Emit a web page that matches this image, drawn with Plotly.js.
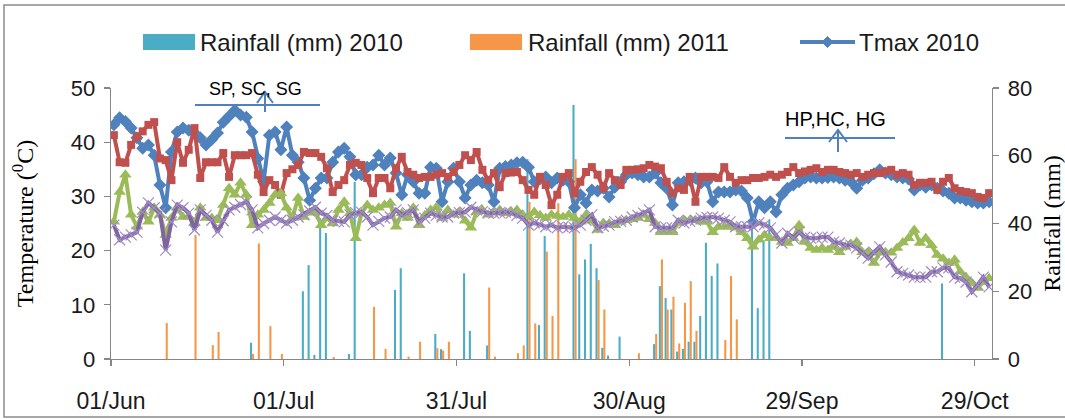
<!DOCTYPE html>
<html><head><meta charset="utf-8">
<script src="https://cdn.plot.ly/plotly-3.0.1.min.js"></script>
<style>html,body{margin:0;padding:0;background:#fff}#chart{width:1065px;height:419px}</style>
</head><body><div id="chart"></div>
<script>
// ---- data (daily, 01 Jun .. 31 Oct) ----
const startYear = 2010;
const tickLabels = ['01/Jun','01/Jul','31/Jul','30/Aug','29/Sep','29/Oct'];
const tickDays = [0, 30, 60, 90, 120, 150];

const tmax2010 = [
43.2,44.5,43.8,42.6,40.8,38.9,39.5,37.6,32.1,27.9,
38.2,41.9,42.6,42.2,41.7,40.8,39.5,40.5,41.7,43.7,
44.8,45.9,45.0,44.6,41.9,37.0,32.7,41.3,41.9,38.6,
42.8,37.6,36.3,33.4,29.3,31.5,33.4,33.4,36.3,38.2,
38.9,37.3,34.0,34.0,35.4,35.8,37.6,35.8,37.1,34.3,
30.3,34.0,32.7,30.6,30.6,35.4,35.2,29.0,32.7,35.2,
32.7,29.7,32.1,33.0,32.5,32.1,29.0,35.2,35.5,35.8,
36.2,36.3,35.4,32.7,33.2,33.6,32.5,33.4,33.0,32.7,
27.9,30.3,28.8,31.2,31.0,31.5,29.9,31.7,32.7,34.0,
34.3,34.0,33.6,33.6,34.3,32.5,31.5,28.4,32.5,32.7,
33.0,33.4,32.5,32.7,29.0,30.8,30.8,30.8,31.2,31.0,
29.7,25.3,29.0,27.9,29.0,27.1,30.3,31.5,32.1,32.7,
33.4,33.6,33.4,33.4,33.5,33.6,33.4,33.0,32.7,31.5,
33.0,33.4,34.2,34.9,34.3,34.0,33.6,33.4,33.2,31.2,
32.1,31.7,32.1,31.5,31.0,30.6,29.7,29.7,29.3,29.0,
28.8,28.8,29.0];

const tmax2011 = [
41.3,36.3,36.2,39.5,41.0,42.0,43.2,43.7,37.0,36.7,
33.0,40.0,36.2,38.6,42.6,33.4,36.3,36.3,36.3,38.0,
33.6,37.6,37.6,37.6,38.0,34.0,30.8,33.0,32.1,30.3,
34.3,35.0,35.8,38.2,38.0,38.0,37.3,35.2,30.8,32.1,
33.0,35.8,36.2,35.8,33.4,30.6,33.4,33.4,31.5,35.2,
37.3,34.5,34.0,33.4,33.6,33.6,34.0,34.3,33.6,34.5,
35.8,37.6,36.7,38.2,34.9,33.0,34.3,31.7,34.3,34.4,
34.5,33.0,31.2,30.3,33.6,32.1,28.4,30.3,33.6,34.3,
30.6,32.7,34.5,35.4,34.0,31.5,34.3,33.0,32.1,34.9,
34.9,35.0,35.2,35.8,35.5,35.2,32.7,30.6,31.5,31.2,
33.6,29.0,33.6,33.6,33.6,33.4,35.4,33.6,32.5,33.0,
33.0,33.4,33.4,33.6,34.0,33.6,34.0,34.5,35.4,34.3,
34.6,34.9,35.2,34.5,34.9,34.9,34.5,34.3,34.0,34.3,
33.6,34.0,34.3,34.3,34.6,34.9,34.0,34.3,34.0,32.1,
32.5,32.5,32.7,31.2,32.7,33.4,31.5,31.0,30.8,30.6,
29.9,29.7,30.6];

const tmin2010 = [
25.3,30.8,34.0,26.6,24.4,27.1,25.3,27.9,26.6,22.9,
26.0,28.0,26.2,26.2,25.1,27.9,26.0,26.0,25.6,28.4,
31.5,30.3,32.5,30.3,24.7,26.6,27.5,28.8,30.3,30.6,
27.9,26.0,29.7,26.2,27.0,27.1,24.7,26.0,25.0,27.5,
29.0,26.9,22.3,26.9,28.4,27.5,27.9,28.4,28.8,24.4,
26.9,26.0,27.9,24.7,26.5,27.5,28.0,26.0,27.5,26.6,
27.1,25.5,24.2,27.1,27.5,26.6,27.0,27.5,26.9,27.2,
27.5,26.6,26.2,27.1,26.5,26.0,26.6,26.4,26.2,26.6,
26.0,25.3,26.6,25.5,23.8,25.1,25.0,24.7,25.3,25.6,
25.8,26.0,26.6,25.8,25.1,23.4,23.4,23.4,25.1,25.6,
25.6,25.6,25.3,25.3,23.4,24.4,24.4,24.4,24.2,23.4,
22.3,20.7,22.0,22.9,22.3,22.3,21.6,21.4,22.3,24.7,
21.6,20.5,20.1,20.5,20.1,20.7,19.7,20.7,21.2,21.6,
19.7,19.7,17.7,19.6,19.7,19.6,20.5,21.5,22.3,23.8,
21.4,22.3,21.0,19.2,18.5,17.7,18.3,16.1,15.1,14.0,
13.1,14.2,14.9];

const tmin2011 = [
24.7,22.0,22.5,22.9,23.4,27.1,28.8,27.9,26.9,20.1,
25.3,28.4,27.9,26.9,23.8,27.5,26.5,25.6,23.4,25.5,
27.5,28.0,28.5,29.0,27.5,24.2,25.0,25.6,26.2,25.6,
25.1,25.6,26.2,26.6,27.3,28.0,26.9,26.5,25.6,25.4,
25.3,26.6,27.0,27.1,26.2,24.7,25.4,26.0,26.2,27.5,
26.6,27.0,27.5,25.3,26.0,26.9,26.5,26.2,26.2,26.9,
27.0,27.1,28.0,27.5,27.2,26.9,26.9,27.0,27.1,26.9,
26.5,26.0,24.7,25.1,24.8,24.4,24.7,24.2,24.4,24.3,
24.2,24.7,25.6,26.6,24.2,24.5,24.7,25.3,25.4,25.6,
26.2,26.5,26.9,27.5,24.4,24.2,24.2,24.2,25.6,25.1,
25.4,25.6,26.0,26.1,26.2,26.0,25.6,25.3,24.4,24.4,
24.4,24.4,25.1,24.8,24.2,22.9,21.4,23.2,22.3,23.4,
22.5,22.3,22.3,22.5,22.5,21.6,21.4,21.0,21.0,20.5,
19.5,18.6,19.7,20.7,19.2,17.9,16.1,15.8,15.5,15.1,
15.1,15.1,16.1,16.1,16.8,16.8,15.1,14.9,14.2,12.4,
13.7,15.1,13.3];

// rainfall: day index (0 = 01 Jun) and amount (mm)
const rainDays2010 = [24,33,34,35,36,37,41,42,49,50,56,57,61,62,65,72,74,75,80,81,82,83,84,85,86,88,94,95,96,97,98,99,100,101,102,103,104,105,111,112,113,114,144];
const rain2010 = [4.8,20,27.7,1.2,41.6,37.2,1.5,52.3,20.4,26.8,7.4,2.9,25.3,8.3,4.0,59,10,36.3,75,25,29.4,34,26.8,3.3,1,6.6,4.4,21.5,18,14.6,2.2,3,5.1,5.1,12.7,34.3,24.5,28.2,38.6,15,35,41,22.3];
const rainDays2011 = [9,14,17,18,24,25,27,29,38,45,47,51,53,56,57,58,65,66,70,71,72,73,75,76,77,80,84,85,91,94,95,96,97,98,99,100,101,106,107,108];
const rain2011 = [10.6,36.6,4.1,8,1.5,34.1,9.7,1.5,0.6,15.4,3,0.7,5.1,3.2,2.5,5.1,21.1,0.7,1.7,4,46.4,10.5,31.7,12.7,46,59,23.3,14.6,1.7,7.4,29.4,14.6,18.4,4.6,16.6,23,8.3,5.6,24.5,11.7];

// ---- helpers ----
const DAY = 86400000;
function dateOf(d, hour) {
  const t = Date.UTC(startYear, 5, 1) + d * DAY + (hour || 0) * 3600000;
  return new Date(t).toISOString().slice(0, 19).replace('T', ' ');
}
const dates = tmax2010.map((_, i) => dateOf(i, 12));

// pixel -> paper helpers for decorations (plot area 111..992 x 88..359)
const L = 111, R = 992, T = 88, B = 359;
const px = X => (X - L) / (R - L);
const py = Y => (B - Y) / (B - T);

const sans = 'Liberation Sans, Arial, sans-serif';
const serif = 'Liberation Serif, Times New Roman, serif';
const axisGray = '#868686';

const traces = [
  {type:'bar', name:'Rainfall (mm) 2010', x: rainDays2010.map(d => dateOf(d, 12)), y: rain2010,
   yaxis:'y', xaxis:'x', marker:{color:'#4BACC6'}, offset:-0.36*DAY, width:0.36*DAY, showlegend:false},
  {type:'bar', name:'Rainfall (mm) 2011', x: rainDays2011.map(d => dateOf(d, 12)), y: rain2011,
   yaxis:'y', xaxis:'x', marker:{color:'#F79646'}, offset:0, width:0.36*DAY, showlegend:false},
  {type:'scatter', mode:'lines+markers', name:'Tmax 2010', x: dates, y: tmax2010, yaxis:'y2',
   line:{color:'#4F81BD', width:4}, marker:{symbol:'diamond', size:10, color:'#4F81BD'}, showlegend:false},
  {type:'scatter', mode:'lines+markers', name:'Tmax 2011', x: dates, y: tmax2011, yaxis:'y2',
   line:{color:'#C0504D', width:4}, marker:{symbol:'square', size:8, color:'#C0504D'}, showlegend:false},
  {type:'scatter', mode:'lines+markers', name:'Tmin 2010', x: dates, y: tmin2010, yaxis:'y2',
   line:{color:'#9BBB59', width:4}, marker:{symbol:'triangle-up', size:11, color:'#9BBB59'}, showlegend:false},
  {type:'scatter', mode:'lines+markers', name:'Tmin 2011', x: dates, y: tmin2011, yaxis:'y2',
   line:{color:'#8064A2', width:4}, marker:{symbol:'x-thin-open', size:11, color:'#A08CC4', line:{width:1.2}}, showlegend:false}
];

const shapes = [
  // outer chart border
  {type:'rect', xref:'paper', yref:'paper', x0:px(4), x1:px(1080), y0:py(417), y1:py(5),
   line:{color:'#8c8c8c', width:1.5}, layer:'below'},
  // legend swatches
  {type:'rect', xref:'paper', yref:'paper', x0:px(143), x1:px(195), y0:py(50), y1:py(34), fillcolor:'#4BACC6', line:{width:0}},
  {type:'rect', xref:'paper', yref:'paper', x0:px(470), x1:px(522), y0:py(50), y1:py(34), fillcolor:'#F79646', line:{width:0}},
  {type:'line', xref:'paper', yref:'paper', x0:px(800), x1:px(855), y0:py(42), y1:py(42), line:{color:'#4F81BD', width:4}},
  {type:'path', xref:'paper', yref:'paper', fillcolor:'#4F81BD', line:{color:'#4F81BD', width:1},
   path:`M${px(827.5)},${py(36.5)} L${px(833)},${py(42)} L${px(827.5)},${py(47.5)} L${px(822)},${py(42)} Z`},
  // SP, SC, SG marker
  {type:'line', xref:'paper', yref:'paper', x0:px(195), x1:px(320), y0:py(105), y1:py(105), line:{color:'#4F81BD', width:2}},
  {type:'line', xref:'paper', yref:'paper', x0:px(265), x1:px(265), y0:py(112), y1:py(92), line:{color:'#4F81BD', width:2}},
  {type:'path', xref:'paper', yref:'paper', line:{color:'#4F81BD', width:2},
   path:`M${px(257)},${py(103)} L${px(265)},${py(92)} L${px(273)},${py(103)}`},
  // HP, HC, HG marker
  {type:'line', xref:'paper', yref:'paper', x0:px(785), x1:px(895), y0:py(138), y1:py(138), line:{color:'#4F81BD', width:2}},
  {type:'line', xref:'paper', yref:'paper', x0:px(838), x1:px(838), y0:py(152), y1:py(130), line:{color:'#4F81BD', width:2}},
  {type:'path', xref:'paper', yref:'paper', line:{color:'#4F81BD', width:2},
   path:`M${px(829)},${py(142)} L${px(838)},${py(130)} L${px(847)},${py(142)}`}
];

const annFont = {family:sans, size:24, color:'#1a1a1a'};
const annotations = [
  {xref:'paper', yref:'paper', x:px(198), y:py(42), xanchor:'left', yanchor:'middle', text:'Rainfall (mm) 2010', showarrow:false, font:annFont},
  {xref:'paper', yref:'paper', x:px(526), y:py(42), xanchor:'left', yanchor:'middle', text:'Rainfall (mm) 2011', showarrow:false, font:annFont},
  {xref:'paper', yref:'paper', x:px(857), y:py(42), xanchor:'left', yanchor:'middle', text:'Tmax 2010', showarrow:false, font:annFont},
  {xref:'paper', yref:'paper', x:px(255), y:py(89), xanchor:'center', yanchor:'middle', text:'SP, SC, SG', showarrow:false, font:{family:sans, size:18, color:'#000'}},
  {xref:'paper', yref:'paper', x:px(835), y:py(119), xanchor:'center', yanchor:'middle', text:'HP,HC, HG', showarrow:false, font:{family:sans, size:20, color:'#000'}}
];

const xTickFont = {family:sans, size:23, color:'#1a1a1a'};
const yTickFont = {family:sans, size:22, color:'#1a1a1a'};
const layout = {
  width:1065, height:419,
  margin:{l:L, r:1065-R, t:T, b:419-B, pad:0},
  paper_bgcolor:'#ffffff', plot_bgcolor:'#ffffff',
  showlegend:false,
  barmode:'overlay',
  xaxis:{type:'date', range:[dateOf(0,0), dateOf(153,0)],
    tickvals: tickDays.map(d => dateOf(d,0)), ticktext: tickLabels,
    showline:true, linecolor:axisGray, linewidth:1.3, ticks:'outside', ticklen:6, tickcolor:axisGray, tickwidth:1.3,
    tickfont:xTickFont, ticklabelstandoff:15, showgrid:false, zeroline:false},
  yaxis:{range:[0,80], dtick:20, side:'right', showline:true, linecolor:axisGray, linewidth:1.3,
    ticks:'outside', ticklen:6, tickcolor:axisGray, tickwidth:1.3, tickfont:yTickFont, ticklabelstandoff:4,
    showgrid:false, zeroline:false,
    title:{text:'Rainfall (mm)', font:{family:serif, size:24, color:'#000'}, standoff:12}},
  yaxis2:{range:[0,50], dtick:10, side:'left', overlaying:'y', showline:true, linecolor:axisGray, linewidth:1.3,
    ticks:'outside', ticklen:6, tickcolor:axisGray, tickwidth:1.3, tickfont:yTickFont, ticklabelstandoff:4,
    showgrid:false, zeroline:false,
    title:{text:'Temperature (<sup>0</sup>C)', font:{family:serif, size:24, color:'#000'}, standoff:30}},
  shapes, annotations
};

Plotly.newPlot('chart', traces, layout, {displayModeBar:false, staticPlot:true});
</script>
</body></html>
